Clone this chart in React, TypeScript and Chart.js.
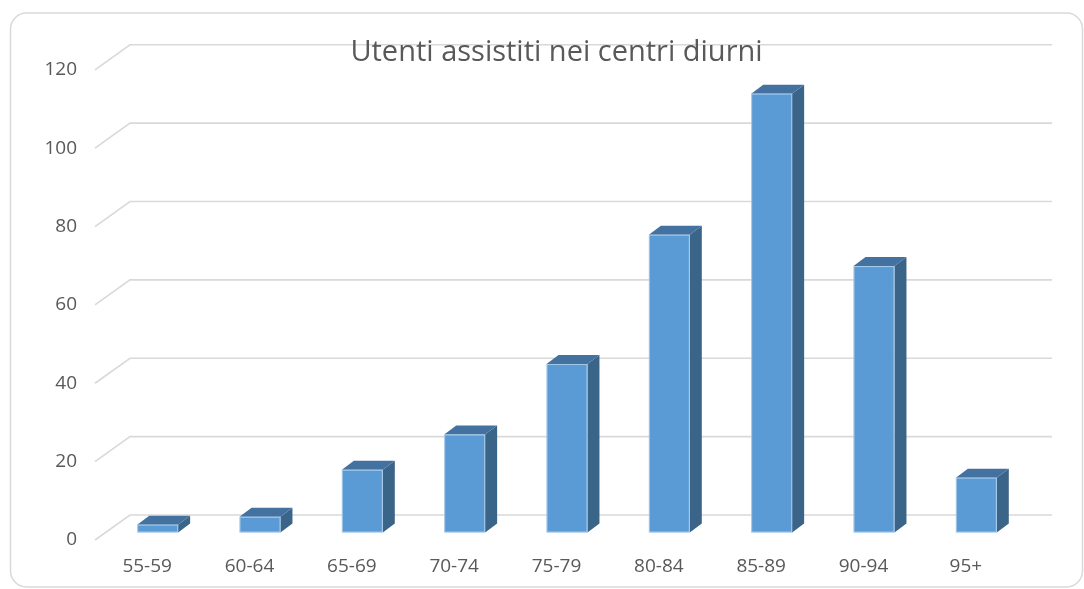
import { useEffect, useRef } from "react";
import { Chart, registerables } from "chart.js";

Chart.register(...registerables);

const categories = ["55-59", "60-64", "65-69", "70-74", "75-79", "80-84", "85-89", "90-94", "95+"];
const values = [2, 4, 16, 25, 43, 76, 112, 68, 14];
const yTicks = [0, 20, 40, 60, 80, 100, 120];
const chartTitle = "Utenti assistiti nei centri diurni";

// oblique projection offsets (styling)
const WALL_DX = 35;
const WALL_DY = 25;
const BAR_DX = 10.5;
const BAR_DY = 7.5;
const DEPTH_DX = 12;
const DEPTH_DY = 9;

const FRONT = "#5B9BD5";
const TOP = "#4472A0";
const SIDE = "#3A6488";
const GRID = "#d9d9d9";
const TEXT = "#595959";

const threeD = {
  id: "threeD",
  beforeDraw(chart: any) {
    const ctx = chart.ctx;
    const area = chart.chartArea;
    ctx.save();
    // outer border
    ctx.strokeStyle = GRID;
    ctx.lineWidth = 1.5;
    ctx.beginPath();
    ctx.roundRect(10.5, 13, 1072, 574, 16);
    ctx.stroke();
    // back wall gridlines with diagonal side wall
    const ys = chart.scales.y;
    ctx.strokeStyle = GRID;
    ctx.lineWidth = 1.6;
    for (const t of ys.ticks) {
      const y = ys.getPixelForValue(t.value);
      const x0 = area.left - 1;
      ctx.beginPath();
      ctx.moveTo(x0, y);
      ctx.lineTo(x0 + WALL_DX, y - WALL_DY);
      ctx.lineTo(area.right + WALL_DX, y - WALL_DY);
      ctx.stroke();
    }
    ctx.restore();
  },
  afterDatasetsDraw(chart: any) {
    const ctx = chart.ctx;
    const meta = chart.getDatasetMeta(0);
    ctx.save();
    for (const el of meta.data) {
      const p = el.getProps(["x", "y", "base", "width"], true);
      const l = p.x - p.width / 2 + BAR_DX;
      const r = l + p.width;
      const t = p.y - BAR_DY;
      const b = p.base - BAR_DY;
      // side
      ctx.fillStyle = SIDE;
      ctx.beginPath();
      ctx.moveTo(r, t);
      ctx.lineTo(r + DEPTH_DX, t - DEPTH_DY);
      ctx.lineTo(r + DEPTH_DX, b - DEPTH_DY);
      ctx.lineTo(r, b);
      ctx.closePath();
      ctx.fill();
      // top
      ctx.fillStyle = TOP;
      ctx.beginPath();
      ctx.moveTo(l, t);
      ctx.lineTo(l + DEPTH_DX, t - DEPTH_DY);
      ctx.lineTo(r + DEPTH_DX, t - DEPTH_DY);
      ctx.lineTo(r, t);
      ctx.closePath();
      ctx.fill();
      // front
      ctx.fillStyle = FRONT;
      ctx.fillRect(l, t, r - l, b - t);
      ctx.strokeStyle = "rgba(255,255,255,0.45)";
      ctx.lineWidth = 1;
      ctx.strokeRect(l + 0.5, t + 0.5, r - l - 1, b - t - 1);
    }
    ctx.restore();
  },
};

export default function App() {
  const ref = useRef<HTMLCanvasElement | null>(null);
  useEffect(() => {
    if (!ref.current) return;
    const chart = new Chart(ref.current, {
      type: "bar",
      data: {
        labels: categories,
        datasets: [
          {
            label: "Utenti",
            data: values,
            backgroundColor: "rgba(0,0,0,0)",
            borderWidth: 0,
            categoryPercentage: 1,
            barPercentage: 0.4,
          },
        ],
      },
      options: {
        responsive: false,
        animation: false,
        layout: { padding: { left: 0, right: 67, top: 0, bottom: 0 } },
        plugins: {
          legend: { display: false },
          tooltip: { enabled: false },
          title: {
            display: true,
            text: chartTitle,
            fullSize: false,
            color: TEXT,
            font: { family: "'Open Sans'", size: 29, weight: "normal" as any },
            padding: { top: 35, bottom: 0 },
          },
        },
        scales: {
          x: {
            grid: { display: false, drawTicks: false },
            border: { display: false },
            ticks: {
              color: TEXT,
              font: { family: "'Open Sans'", size: 19 },
              padding: 15,
              maxRotation: 0,
            },
            afterFit(scale: any) {
              scale.height = 49;
            },
          },
          y: {
            min: 0,
            max: 120,
            grid: { display: false, drawTicks: false },
            border: { display: false },
            ticks: {
              color: TEXT,
              font: { family: "'Open Sans'", size: 19 },
              padding: 19,
            },
            afterBuildTicks(scale: any) {
              scale.ticks = yTicks.map((v) => ({ value: v }));
            },
            afterFit(scale: any) {
              scale.width = 96;
            },
          },
        },
      },
      plugins: [threeD],
    });
    return () => chart.destroy();
  }, []);
  return (
    <div style={{ position: "absolute", left: 0, top: 0, width: 1084, height: 589 }}>
      <canvas ref={ref} width={1084} height={589} />
    </div>
  );
}
